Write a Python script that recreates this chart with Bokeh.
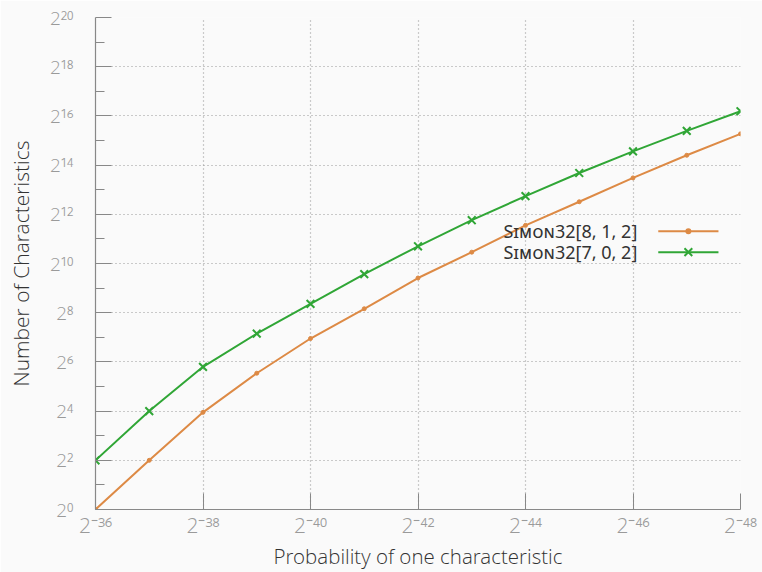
from bokeh.plotting import figure
from bokeh.models import Range1d, FixedTicker, Label
from bokeh.embed import file_html
from bokeh.resources import INLINE

# log2 of probability (x) and log2 of number of characteristics (y)
prob_exp = [-36, -37, -38, -39, -40, -41, -42, -43, -44, -45, -46, -47, -48]
simon_812 = [0.0, 2.0, 3.95, 5.54, 6.95, 8.16, 9.41, 10.46, 11.55, 12.51, 13.48, 14.40, 15.27]
simon_702 = [2.0, 4.0, 5.8, 7.15, 8.36, 9.57, 10.70, 11.76, 12.74, 13.68, 14.56, 15.39, 16.19]
series_names = ["Sɪᴍᴏɴ32[8, 1, 2]", "Sɪᴍᴏɴ32[7, 0, 2]"]

x_ticks = [-36, -38, -40, -42, -44, -46, -48]
y_ticks = [0, 2, 4, 6, 8, 10, 12, 14, 16, 18, 20]
y_minor = [1, 3, 5, 7, 9, 11, 13, 15, 17, 19]

SUP = str.maketrans("-0123456789", "⁻⁰¹²³⁴⁵⁶⁷⁸⁹")
x_tick_labels = {t: "2" + str(t).translate(SUP) for t in x_ticks}
y_tick_labels = {t: "2" + str(t).translate(SUP) for t in y_ticks}

ORANGE = "#dd8a45"
GREEN = "#30a636"
FONT = "Open Sans Light, Open Sans"
BG = "#fafafa"
TICK_COL = "#9a9a9a"
AX_COL = "#888888"

p = figure(width=762, height=572, output_backend="svg", toolbar_location=None,
           x_range=Range1d(-36, -48), y_range=Range1d(0, 20),
           background_fill_color=BG, border_fill_color=BG,
           min_border_left=95, min_border_right=22, min_border_top=17, min_border_bottom=60)
p.outline_line_color = None

for ax in (p.xaxis[0], p.yaxis[0]):
    ax.axis_line_color = AX_COL
    ax.axis_line_width = 1.2
    ax.major_tick_line_color = AX_COL
    ax.minor_tick_line_color = AX_COL
    ax.major_tick_in = 16
    ax.major_tick_out = 0
    ax.minor_tick_in = 9
    ax.minor_tick_out = 0
    ax.major_label_text_color = TICK_COL
    ax.major_label_text_font = FONT
    ax.axis_label_text_color = "#333333"
    ax.axis_label_text_font = FONT
    ax.axis_label_text_font_size = "21px"
    ax.axis_label_text_font_style = "normal"

p.xaxis[0].ticker = FixedTicker(ticks=x_ticks, minor_ticks=[])
p.yaxis[0].ticker = FixedTicker(ticks=y_ticks, minor_ticks=y_minor)
p.xaxis[0].major_label_overrides = x_tick_labels
p.yaxis[0].major_label_overrides = y_tick_labels
p.xaxis[0].major_label_text_font_size = "21px"
p.yaxis[0].major_label_text_font_size = "19px"
p.xaxis[0].major_label_standoff = 1
p.yaxis[0].major_label_standoff = 22
p.xaxis[0].axis_label = "Probability of one characteristic"
p.yaxis[0].axis_label = "Number of Characteristics"
p.xaxis[0].axis_label_text_font_size = "20.5px"
p.xaxis[0].axis_label_standoff = 0
p.yaxis[0].axis_label_standoff = 12

for g in (p.xgrid[0], p.ygrid[0]):
    g.grid_line_color = "#999999"
    g.grid_line_dash = "1 3"
    g.grid_line_width = 1.2
p.xgrid[0].ticker = FixedTicker(ticks=x_ticks)
p.ygrid[0].ticker = FixedTicker(ticks=y_ticks)

p.line(prob_exp, simon_812, line_color=ORANGE, line_width=2)
p.scatter(prob_exp, simon_812, marker="circle", size=4, fill_color=ORANGE, line_color=ORANGE)
p.line(prob_exp, simon_702, line_color=GREEN, line_width=2)
p.scatter(prob_exp, simon_702, marker="x", size=11, line_color=GREEN, line_width=2)

# manual legend (text left, sample right)
leg_y = [11.31, 10.46]
leg_x0, leg_x1 = -46.47, -47.59
for name, ly, col, mk, ms in zip(series_names, leg_y, [ORANGE, GREEN], ["circle", "x"], [4, 11]):
    p.add_layout(Label(x=-46.08, y=ly, text=name, text_align="right", text_baseline="middle",
                       text_font="Noto Sans", text_font_size="18px", text_color="#333333"))
    p.segment(x0=[leg_x0], y0=[ly], x1=[leg_x1], y1=[ly], line_color=col, line_width=2)
    p.scatter(x=[(leg_x0 + leg_x1) / 2], y=[ly], marker=mk, size=ms,
              line_color=col, fill_color=col, line_width=2)

open("out.html", "w").write(file_html(p, INLINE))
